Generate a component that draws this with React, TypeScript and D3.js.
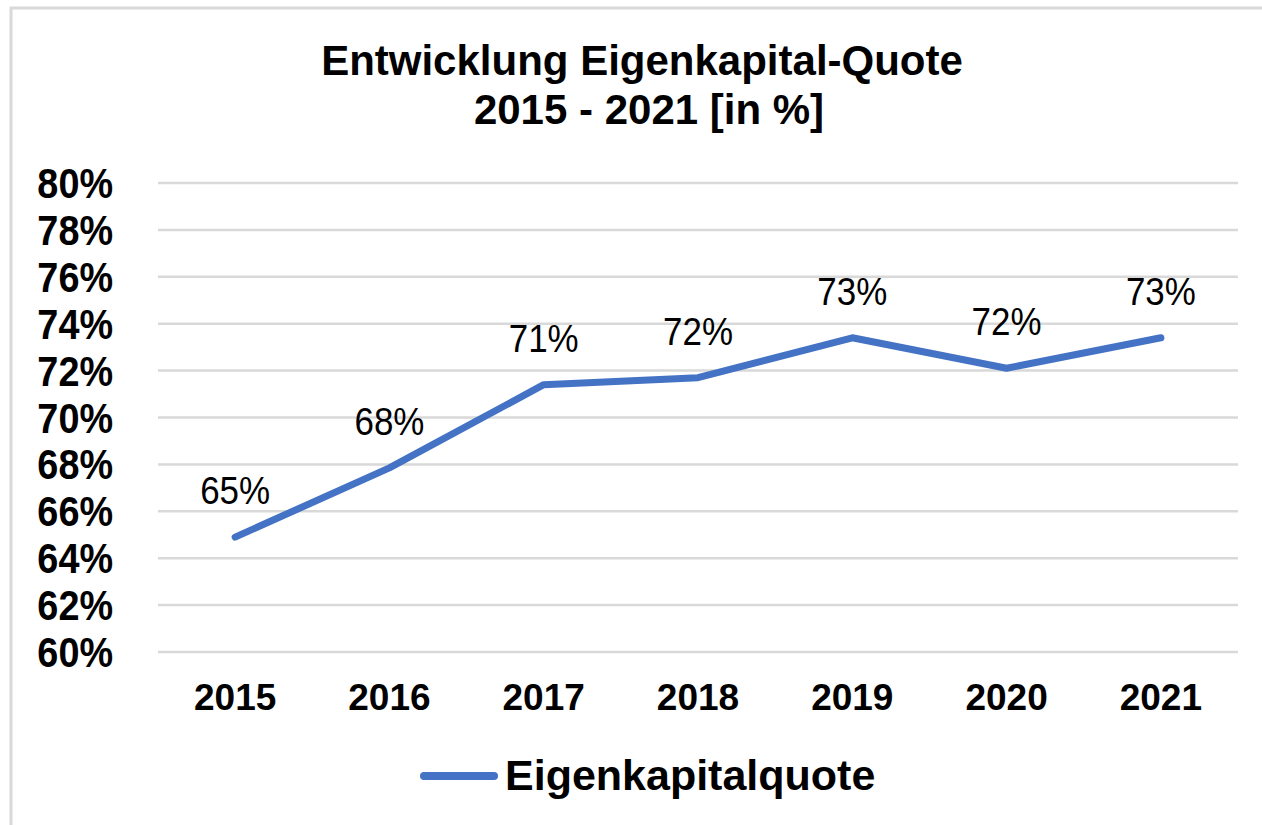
import React, { useEffect, useRef } from "react";
import * as d3 from "d3";

const years = ["2015", "2016", "2017", "2018", "2019", "2020", "2021"];
const equityRatio = [64.9, 67.85, 71.4, 71.7, 73.4, 72.1, 73.4];
const yTicks = [60, 62, 64, 66, 68, 70, 72, 74, 76, 78, 80];
const titleLines = ["Entwicklung Eigenkapital-Quote", "2015 - 2021 [in %]"];
const seriesName = "Eigenkapitalquote";

export default function App() {
  const ref = useRef<SVGSVGElement>(null);

  useEffect(() => {
    const width = 1262,
      height = 825;
    const plot = { left: 158, right: 1238, top: 183, bottom: 652 };
    const blue = "#4472c4";
    const font = "Arial, 'Liberation Sans', sans-serif";

    const svg = d3.select(ref.current);
    svg.selectAll("*").remove();
    svg.attr("width", width).attr("height", height);

    // frame
    svg
      .append("rect")
      .attr("x", 11)
      .attr("y", 8)
      .attr("width", width + 20)
      .attr("height", height + 20)
      .attr("fill", "#fff")
      .attr("stroke", "#d9d9d9")
      .attr("stroke-width", 3);

    const x = d3
      .scaleBand()
      .domain(years)
      .range([plot.left, plot.right]);

    const y = d3
      .scaleLinear()
      .domain([60, 80])
      .range([plot.bottom, plot.top]);

    // title
    titleLines.forEach((t, i) => {
      svg
        .append("text")
        .attr("x", i === 0 ? 642 : 649)
        .attr("y", 75 + i * 49)
        .attr("text-anchor", "middle")
        .style("font-family", font)
        .style("font-size", "42px")
        .style("font-weight", "bold")
        .style("fill", "#000")
        .text(t);
    });

    // grid lines
    svg
      .append("g")
      .selectAll("line")
      .data(yTicks)
      .enter()
      .append("line")
      .attr("x1", plot.left)
      .attr("x2", plot.right)
      .attr("y1", (d) => y(d))
      .attr("y2", (d) => y(d))
      .attr("stroke", "#d9d9d9")
      .attr("stroke-width", 2.5);

    // y labels
    svg
      .append("g")
      .selectAll("text")
      .data(yTicks)
      .enter()
      .append("text")
      .attr("transform", (d) => `translate(113,${y(d) + 15}) scale(0.9,1)`)
      .attr("text-anchor", "end")
      .style("font-family", font)
      .style("font-size", "42px")
      .style("font-weight", "bold")
      .style("fill", "#000")
      .text((d) => `${d}%`);

    // x labels
    svg
      .append("g")
      .selectAll("text")
      .data(years)
      .enter()
      .append("text")
      .attr("x", (d) => x(d)! + x.bandwidth() / 2)
      .attr("y", 710)
      .attr("text-anchor", "middle")
      .style("font-family", font)
      .style("font-size", "37px")
      .style("font-weight", "bold")
      .style("fill", "#000")
      .text((d) => d);

    // line
    const pts = years.map((yr, i) => ({ yr, v: equityRatio[i] }));
    const line = d3
      .line<{ yr: string; v: number }>()
      .x((d) => x(d.yr)! + x.bandwidth() / 2)
      .y((d) => y(d.v));

    svg
      .append("path")
      .datum(pts)
      .attr("fill", "none")
      .attr("stroke", blue)
      .attr("stroke-width", 7)
      .attr("stroke-linecap", "round")
      .attr("stroke-linejoin", "round")
      .attr("d", line);

    // data labels
    svg
      .append("g")
      .selectAll("text")
      .data(pts)
      .enter()
      .append("text")
      .attr(
        "transform",
        (d) => `translate(${x(d.yr)! + x.bandwidth() / 2},${y(d.v) - 33}) scale(0.92,1)`
      )
      .attr("text-anchor", "middle")
      .style("font-family", font)
      .style("font-size", "38px")
      .style("fill", "#000")
      .text((d) => `${Math.round(d.v)}%`);

    // legend
    const lg = svg.append("g");
    lg.append("line")
      .attr("x1", 424)
      .attr("x2", 494)
      .attr("y1", 776)
      .attr("y2", 776)
      .attr("stroke", blue)
      .attr("stroke-width", 8)
      .attr("stroke-linecap", "round");
    lg.append("text")
      .attr("x", 505)
      .attr("y", 790)
      .style("font-family", font)
      .style("font-size", "43px")
      .style("font-weight", "bold")
      .style("fill", "#000")
      .text(seriesName);
  }, []);

  return (
    <svg
      ref={ref}
      style={{ position: "absolute", left: 0, top: 0, background: "#fff" }}
    />
  );
}
